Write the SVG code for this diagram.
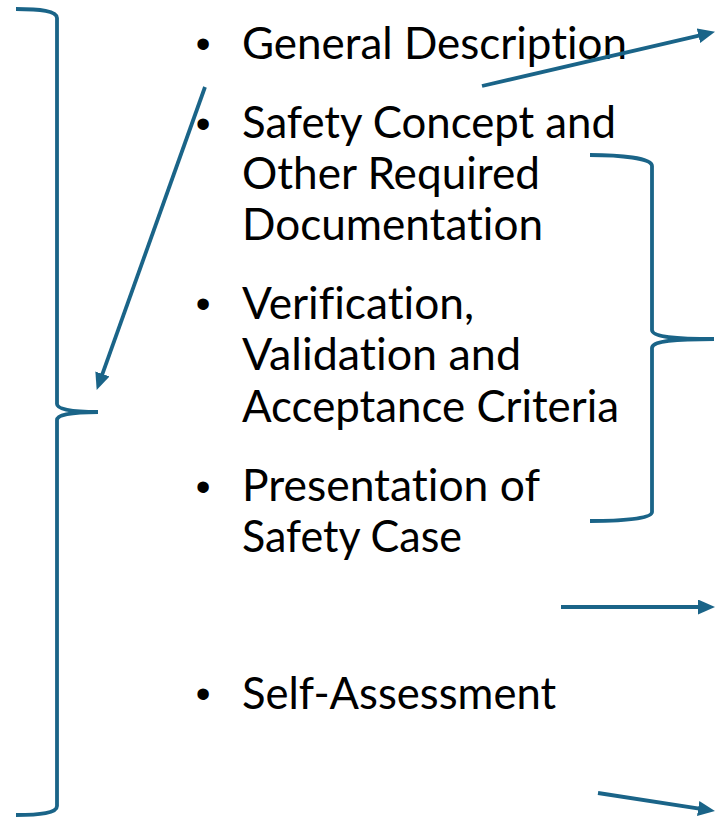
<svg xmlns="http://www.w3.org/2000/svg" width="717" height="821" viewBox="0 0 717 821">
  <style>
    .t { font-family: Lato, "Liberation Sans", sans-serif; font-size: 44px; fill: #000; font-variant-ligatures: none; font-feature-settings: "liga" 0, "clig" 0, "dlig" 0; }
    .b { font-family: "Liberation Sans", Arial, sans-serif; font-size: 42px; fill: #000; text-anchor: middle; }
    .br { fill: none; stroke: #1a6488; stroke-width: 3.8; stroke-linecap: butt; }
    .ar { fill: none; stroke: #1a6488; stroke-width: 3.8; marker-end: url(#head); }
  </style>
  <defs>
    <marker id="head" markerUnits="userSpaceOnUse" markerWidth="20" markerHeight="16" refX="6" refY="7.5" orient="auto">
      <path d="M0,0 L17,7.5 L0,15 z" fill="#1a6488"/>
    </marker>
  </defs>
  <rect width="717" height="821" fill="#ffffff"/>

  <g id="brace-left">
    <path class="br" d="M16,9 C40,9 57,11 57,18 L57,404 C57,409 70,412 98,412 C70,412 57,415 57,420 L57,806 C57,813 40,815 16,815"/>
  </g>
  <g id="brace-right">
    <path class="br" d="M590,155 C620,155 652,158 652,166 L652,330 C652,336 670,339 714,339 C670,339 652,342 652,348 L652,512 C652,519 620,521 590,521"/>
  </g>

  <g id="item-general">
    <text class="b" x="203" y="58">•</text>
    <text class="t" x="242" y="59" textLength="385" lengthAdjust="spacingAndGlyphs">General Description</text>
  </g>
  <g id="item-safety-concept">
    <text class="b" x="203" y="138">•</text>
    <text class="t" x="242" y="138" textLength="374" lengthAdjust="spacingAndGlyphs">Safety Concept and</text>
    <text class="t" x="242" y="189" textLength="298" lengthAdjust="spacingAndGlyphs">Other Required</text>
    <text class="t" x="242" y="240" textLength="301" lengthAdjust="spacingAndGlyphs">Documentation</text>
  </g>
  <g id="item-verification">
    <text class="b" x="203" y="318">•</text>
    <text class="t" x="242" y="319" textLength="232" lengthAdjust="spacingAndGlyphs">Verification,</text>
    <text class="t" x="242" y="370" textLength="279" lengthAdjust="spacingAndGlyphs">Validation and</text>
    <text class="t" x="242" y="422" textLength="377" lengthAdjust="spacingAndGlyphs">Acceptance Criteria</text>
  </g>
  <g id="item-presentation">
    <text class="b" x="203" y="501">•</text>
    <text class="t" x="242" y="501" textLength="298" lengthAdjust="spacingAndGlyphs">Presentation of</text>
    <text class="t" x="242" y="552" textLength="220" lengthAdjust="spacingAndGlyphs">Safety Case</text>
  </g>
  <g id="item-self">
    <text class="b" x="203" y="708">•</text>
    <text class="t" x="242" y="709" textLength="314" lengthAdjust="spacingAndGlyphs">Self-Assessment</text>
  </g>

  <g id="connectors">
    <line class="ar" x1="205" y1="87" x2="100.4" y2="379.6"/>
    <line class="ar" x1="482" y1="86" x2="704.3" y2="34.3"/>
    <line class="ar" x1="561" y1="607" x2="704" y2="607"/>
    <line class="ar" x1="598" y1="793" x2="704.1" y2="809.4"/>
  </g>
</svg>
